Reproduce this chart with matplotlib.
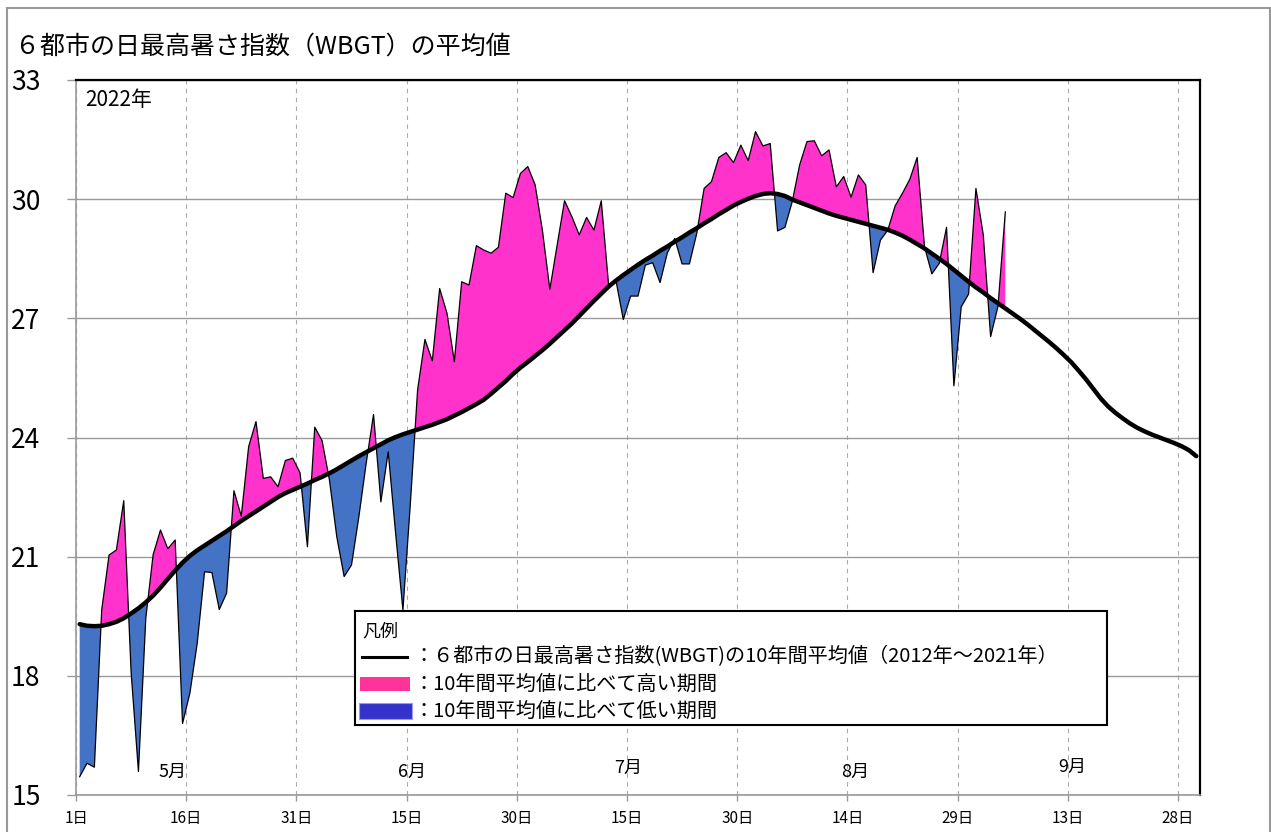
import numpy as np
import matplotlib
matplotlib.use("Agg")
import matplotlib.pyplot as plt
from matplotlib.patches import Rectangle

plt.rcParams['font.family'] = ['Noto Sans CJK JP', 'DejaVu Sans']

# ---- data ----
title = "６都市の日最高暑さ指数（WBGT）の平均値"
year_label = "2022年"
tick_days = [0, 15, 30, 45, 60, 75, 90, 105, 120, 135, 150]
tick_labels = ["1日", "16日", "31日", "15日", "30日", "15日", "30日", "14日", "29日", "13日", "28日"]
month_labels = ["5月", "6月", "7月", "8月", "9月"]

# daily max WBGT average of 6 cities, 2022 (May 1 - Sep 4)
wbgt_2022 = [
    15.46, 15.80, 15.70, 19.66, 21.04, 21.17, 22.41, 18.10, 15.59, 19.45,
    21.05, 21.67, 21.20, 21.42, 16.80, 17.56, 18.82, 20.62, 20.60, 19.67,
    20.08, 22.66, 22.02, 23.77, 24.40, 22.97, 23.01, 22.76, 23.42, 23.48,
    23.11, 21.25, 24.26, 23.92, 22.93, 21.50, 20.50, 20.79, 22.00, 23.35,
    24.58, 22.38, 23.64, 21.60, 19.66, 22.30, 25.20, 26.47, 25.93, 27.75,
    27.13, 25.91, 27.92, 27.84, 28.83, 28.72, 28.64, 28.79, 30.15, 30.04,
    30.65, 30.82, 30.36, 29.20, 27.73, 28.85, 29.96, 29.56, 29.10, 29.54,
    29.22, 29.96, 27.84, 27.95, 26.97, 27.56, 27.56, 28.34, 28.40, 27.90,
    28.65, 29.01, 28.37, 28.37, 29.14, 30.27, 30.44, 31.05, 31.17, 30.92,
    31.36, 30.97, 31.70, 31.34, 31.40, 29.20, 29.29, 29.94, 30.86, 31.45,
    31.47, 31.09, 31.24, 30.31, 30.57, 30.05, 30.61, 30.36, 28.15, 28.97,
    29.22, 29.83, 30.15, 30.50, 31.05, 28.80, 28.12, 28.38, 29.29, 25.30,
    27.29, 27.61, 30.27, 29.10, 26.54, 27.30, 29.68,
]

# 10-year average (2012-2021), May 1 - Sep 30
wbgt_avg = [
    19.30, 19.26, 19.25, 19.26, 19.30, 19.36, 19.45, 19.57, 19.70, 19.85,
    20.02, 20.22, 20.44, 20.65, 20.85, 21.02, 21.16, 21.28, 21.40, 21.52,
    21.64, 21.77, 21.90, 22.02, 22.14, 22.26, 22.38, 22.50, 22.60, 22.68,
    22.76, 22.84, 22.93, 23.01, 23.10, 23.20, 23.31, 23.42, 23.53, 23.63,
    23.73, 23.83, 23.93, 24.01, 24.08, 24.14, 24.20, 24.26, 24.32, 24.39,
    24.46, 24.55, 24.64, 24.74, 24.84, 24.95, 25.10, 25.26, 25.42, 25.60,
    25.76, 25.90, 26.05, 26.20, 26.36, 26.53, 26.70, 26.87, 27.06, 27.25,
    27.44, 27.62, 27.80, 27.95, 28.09, 28.22, 28.35, 28.47, 28.58, 28.70,
    28.81, 28.93, 29.04, 29.16, 29.27, 29.39, 29.50, 29.62, 29.73, 29.84,
    29.93, 30.01, 30.08, 30.13, 30.15, 30.13, 30.08, 29.99, 29.92, 29.85,
    29.78, 29.71, 29.64, 29.58, 29.53, 29.48, 29.43, 29.38, 29.33, 29.28,
    29.23, 29.16, 29.08, 28.98, 28.87, 28.76, 28.63, 28.50, 28.37, 28.22,
    28.07, 27.92, 27.78, 27.65, 27.51, 27.38, 27.25, 27.12, 26.99, 26.85,
    26.70, 26.55, 26.40, 26.24, 26.07, 25.89, 25.68, 25.46, 25.22, 24.98,
    24.78, 24.62, 24.48, 24.35, 24.24, 24.15, 24.07, 24.00, 23.93, 23.86,
    23.78, 23.68, 23.53,
]

legend_title = "凡例"
legend_texts = [
    "：６都市の日最高暑さ指数(WBGT)の10年間平均値（2012年～2021年）",
    "：10年間平均値に比べて高い期間",
    "：10年間平均値に比べて低い期間",
]

# ---- styles ----
PINK = "#FF33CC"
BLUE = "#4472C4"
LEG_PINK = "#FF3399"
LEG_BLUE = "#3333CC"
GRID = "#999999"

W, H = 1271, 832
fig = plt.figure(figsize=(W / 100, H / 100), dpi=100)
ax = fig.add_axes([76 / W, 1 - 795 / H, (1200 - 76) / W, (795 - 80) / H])

obs = np.array(wbgt_2022)
avg = np.array(wbgt_avg)
x_obs = np.arange(len(obs)) + 0.5
x_avg = np.arange(len(avg)) + 0.5
avg_part = avg[:len(obs)]

ax.fill_between(x_obs, obs, avg_part, where=obs >= avg_part, interpolate=True,
                color=PINK, linewidth=0, zorder=2)
ax.fill_between(x_obs, obs, avg_part, where=obs <= avg_part, interpolate=True,
                color=BLUE, linewidth=0, zorder=2)
ax.plot(x_obs, obs, color="black", lw=0.9, zorder=3)
ax.plot(x_avg, avg, color="black", lw=3.2, zorder=4, solid_capstyle="round")

ax.set_xlim(0, 153)
ax.set_ylim(15, 33)
ax.set_yticks([15, 18, 21, 24, 27, 30, 33])
ax.set_yticklabels(["15", "18", "21", "24", "27", "30", "33"])
ax.set_xticks(tick_days)
ax.set_xticklabels(tick_labels)

ax.tick_params(axis="y", length=6.5, width=1, color=GRID, pad=19, labelsize=19)
ax.tick_params(axis="x", length=4.5, width=1, color=GRID, pad=6, labelsize=11)

ax.yaxis.grid(True, color=GRID, lw=1, zorder=0)
ax.xaxis.grid(True, color="#AAAAAA", lw=0.8, linestyle=(0, (4, 4)), zorder=0)
ax.set_axisbelow(True)

for s in ["left", "bottom"]:
    ax.spines[s].set_color(GRID)
    ax.spines[s].set_linewidth(1.2)
for s in ["top", "right"]:
    ax.spines[s].set_color("black")
    ax.spines[s].set_linewidth(1.6)

# month labels
month_pos = [(13.1, 15.58), (45.7, 15.58), (75.1, 15.68), (106.0, 15.58), (135.6, 15.71)]
for m, (mx, my) in zip(month_labels, month_pos):
    ax.text(mx, my, m, ha="center", va="center", fontsize=13, zorder=5)

ax.text(1.2, 32.5, year_label, ha="left", va="center", fontsize=15, zorder=5)

fig.text(15 / W, 1 - 47 / H, title, ha="left", va="center", fontsize=18)

# outer frame
fig.add_artist(Rectangle((7 / W, -0.02), (1269.5 - 7) / W, (832 - 8) / H + 0.02,
                         transform=fig.transFigure, fill=False,
                         edgecolor="#999999", lw=1.5))

# legend box
lx0, ly0, lx1, ly1 = 355, 611, 1107, 725
lax = fig.add_axes([lx0 / W, 1 - ly1 / H, (lx1 - lx0) / W, (ly1 - ly0) / H])
lax.set_xlim(0, lx1 - lx0)
lax.set_ylim(ly1 - ly0, 0)
lax.set_xticks([])
lax.set_yticks([])
for s in lax.spines.values():
    s.set_color("black")
    s.set_linewidth(1.5)
lax.text(7, 20, legend_title, ha="left", va="center", fontsize=13)
lax.plot([7, 52], [46, 46], color="black", lw=2.2)
lax.add_patch(Rectangle((5, 66), 50, 14, facecolor=LEG_PINK, edgecolor="none"))
lax.add_patch(Rectangle((4, 92), 53, 16, facecolor=LEG_BLUE, edgecolor="#9999EE", lw=0.8))
for t, yy in zip(legend_texts, [46, 73, 100]):
    lax.text(58, yy, t, ha="left", va="center", fontsize=14.5)

fig.savefig("out.png", dpi=100)
